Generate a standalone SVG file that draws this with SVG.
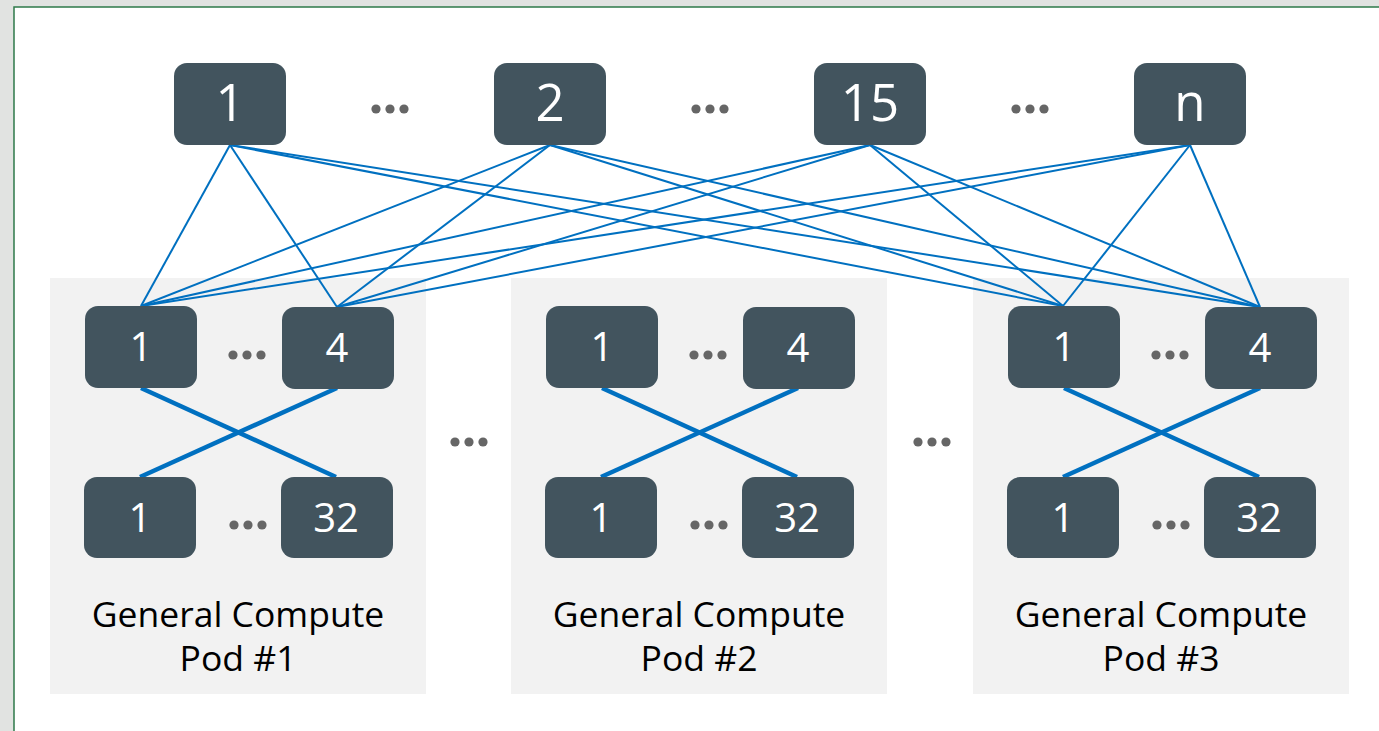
<svg xmlns="http://www.w3.org/2000/svg" width="1379" height="731" viewBox="0 0 1379 731">
<defs>
<style>
.node{fill:#42545e;}
.pod{fill:#f2f2f2;}
.num{fill:#ffffff;font-family:"Open Sans","Liberation Sans",sans-serif;text-anchor:middle;}
.big{font-size:51px;}
.small{font-size:40px;}
.lbl{fill:#000000;font-family:"Open Sans","Liberation Sans",sans-serif;font-size:35.5px;text-anchor:middle;}
.dot{fill:#666666;}
.thin{stroke:#0070c0;stroke-width:2;fill:none;}
.thick{stroke:#0070c0;stroke-width:4.5;fill:none;}
</style>
<g id="dots3"><circle class="dot" cx="-14" cy="0" r="4.6"/><circle class="dot" cx="0" cy="0" r="4.6"/><circle class="dot" cx="14" cy="0" r="4.6"/></g>
</defs>
<rect x="0" y="0" width="1379" height="731" fill="#e1e3e1"/>
<rect x="14" y="7" width="1366" height="725" fill="#ffffff" stroke="#2e7a4a" stroke-width="1.5"/>
<g id="pods">
<rect class="pod" x="50" y="278" width="376" height="416"/>
<rect class="pod" x="511" y="278" width="376" height="416"/>
<rect class="pod" x="973" y="278" width="376" height="416"/>
</g>
<g id="connectors">
<line class="thin" x1="230" y1="145" x2="141" y2="306"/>
<line class="thin" x1="230" y1="145" x2="337" y2="307"/>
<line class="thin" x1="230" y1="145" x2="1063" y2="306"/>
<line class="thin" x1="230" y1="145" x2="1260" y2="307"/>
<line class="thin" x1="550" y1="145" x2="141" y2="306"/>
<line class="thin" x1="550" y1="145" x2="337" y2="307"/>
<line class="thin" x1="550" y1="145" x2="1063" y2="306"/>
<line class="thin" x1="550" y1="145" x2="1260" y2="307"/>
<line class="thin" x1="870" y1="145" x2="141" y2="306"/>
<line class="thin" x1="870" y1="145" x2="337" y2="307"/>
<line class="thin" x1="870" y1="145" x2="1063" y2="306"/>
<line class="thin" x1="870" y1="145" x2="1260" y2="307"/>
<line class="thin" x1="1190" y1="145" x2="141" y2="306"/>
<line class="thin" x1="1190" y1="145" x2="337" y2="307"/>
<line class="thin" x1="1190" y1="145" x2="1063" y2="306"/>
<line class="thin" x1="1190" y1="145" x2="1260" y2="307"/>
<line class="thick" x1="141" y1="388" x2="336" y2="477"/>
<line class="thick" x1="337" y1="388" x2="140" y2="477"/>
<line class="thick" x1="602" y1="388" x2="797" y2="477"/>
<line class="thick" x1="798" y1="388" x2="601" y2="477"/>
<line class="thick" x1="1064" y1="388" x2="1259" y2="477"/>
<line class="thick" x1="1260" y1="388" x2="1063" y2="477"/>
</g>
<g id="spine-1"><rect class="node" x="174" y="63" width="112" height="82" rx="13"/><text class="num big" x="230" y="121">1</text></g>
<g id="spine-2"><rect class="node" x="494" y="63" width="112" height="82" rx="13"/><text class="num big" x="550" y="121">2</text></g>
<g id="spine-15"><rect class="node" x="814" y="63" width="112" height="82" rx="13"/><text class="num big" x="870" y="121">15</text></g>
<g id="spine-n"><rect class="node" x="1134" y="63" width="112" height="82" rx="13"/><text class="num big" x="1190" y="121">n</text></g>
<g id="top-dots">
<use href="#dots3" x="390" y="109"/>
<use href="#dots3" x="710" y="109"/>
<use href="#dots3" x="1030" y="109"/>
<use href="#dots3" x="469" y="442"/>
<use href="#dots3" x="932" y="442"/>
</g>
<g id="pod-1">
<g id="pod1-agg1"><rect class="node" x="85" y="306" width="112" height="82" rx="13"/><text class="num small" x="141" y="361">1</text></g>
<g id="pod1-agg4"><rect class="node" x="282" y="307" width="112" height="82" rx="13"/><text class="num small" x="337" y="362">4</text></g>
<g id="pod1-tor1"><rect class="node" x="84" y="477" width="112" height="81" rx="13"/><text class="num small" x="140" y="532">1</text></g>
<g id="pod1-tor32"><rect class="node" x="281" y="477" width="112" height="81" rx="13"/><text class="num small" x="336" y="532">32</text></g>
<use href="#dots3" x="247" y="355"/>
<use href="#dots3" x="248" y="525"/>
<text class="lbl" x="238" y="627">General Compute</text>
<text class="lbl" x="238" y="671">Pod #1</text>
</g>
<g id="pod-2">
<g id="pod2-agg1"><rect class="node" x="546" y="306" width="112" height="82" rx="13"/><text class="num small" x="602" y="361">1</text></g>
<g id="pod2-agg4"><rect class="node" x="743" y="307" width="112" height="82" rx="13"/><text class="num small" x="798" y="362">4</text></g>
<g id="pod2-tor1"><rect class="node" x="545" y="477" width="112" height="81" rx="13"/><text class="num small" x="601" y="532">1</text></g>
<g id="pod2-tor32"><rect class="node" x="742" y="477" width="112" height="81" rx="13"/><text class="num small" x="797" y="532">32</text></g>
<use href="#dots3" x="708" y="355"/>
<use href="#dots3" x="709" y="525"/>
<text class="lbl" x="699" y="627">General Compute</text>
<text class="lbl" x="699" y="671">Pod #2</text>
</g>
<g id="pod-3">
<g id="pod3-agg1"><rect class="node" x="1008" y="306" width="112" height="82" rx="13"/><text class="num small" x="1064" y="361">1</text></g>
<g id="pod3-agg4"><rect class="node" x="1205" y="307" width="112" height="82" rx="13"/><text class="num small" x="1260" y="362">4</text></g>
<g id="pod3-tor1"><rect class="node" x="1007" y="477" width="112" height="81" rx="13"/><text class="num small" x="1063" y="532">1</text></g>
<g id="pod3-tor32"><rect class="node" x="1204" y="477" width="112" height="81" rx="13"/><text class="num small" x="1259" y="532">32</text></g>
<use href="#dots3" x="1170" y="355"/>
<use href="#dots3" x="1171" y="525"/>
<text class="lbl" x="1161" y="627">General Compute</text>
<text class="lbl" x="1161" y="671">Pod #3</text>
</g>
</svg>
